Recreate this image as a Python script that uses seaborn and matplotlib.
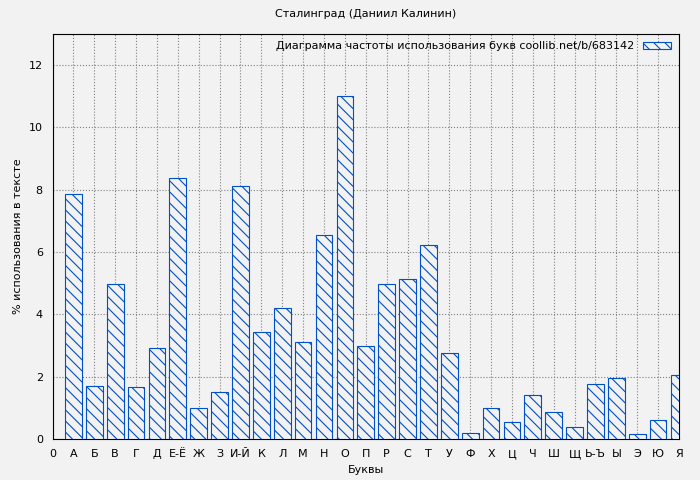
import matplotlib
matplotlib.use("Agg")
import matplotlib.pyplot as plt
import seaborn as sns
import pandas as pd

letters = ["А", "Б", "В", "Г", "Д", "Е-Ё", "Ж", "З", "И-Й", "К", "Л", "М", "Н", "О", "П",
           "Р", "С", "Т", "У", "Ф", "Х", "Ц", "Ч", "Ш", "Щ", "Ь-Ъ", "Ы", "Э", "Ю", "Я"]
percent = [7.87, 1.70, 4.96, 1.66, 2.91, 8.38, 0.99, 1.50, 8.10, 3.42, 4.22, 3.10, 6.53, 11.0, 2.98,
           4.99, 5.12, 6.21, 2.75, 0.19, 0.99, 0.54, 1.41, 0.86, 0.38, 1.76, 1.95, 0.16, 0.61, 2.05]
legend_label = "Диаграмма частоты использования букв coollib.net/b/683142"
title = "Сталинград (Даниил Калинин)"

df = pd.DataFrame({"pos": range(1, len(letters) + 1), "pct": percent})

sns.set_style("whitegrid")
plt.rcParams["font.family"] = ["DejaVu Sans"]
plt.rcParams["text.color"] = "black"
plt.rcParams["axes.labelcolor"] = "black"
plt.rcParams["xtick.color"] = "black"
plt.rcParams["ytick.color"] = "black"
plt.rcParams["hatch.color"] = "#0050c8"
plt.rcParams["hatch.linewidth"] = 0.8

fig, ax = plt.subplots(figsize=(7, 4.8), dpi=100)
fig.patch.set_facecolor("#f2f2f2")
ax.set_facecolor("#f2f2f2")

sns.barplot(data=df, x="pos", y="pct", native_scale=True, width=0.8,
            facecolor="#f2f2f2", edgecolor="#0050c8", linewidth=0.8,
            hatch="\\\\\\", label=legend_label, ax=ax, zorder=3)

ax.set_xlim(0, len(letters))
ax.set_ylim(0, 13)
ax.set_xticks(range(0, len(letters) + 1))
ax.set_xticklabels(["0"] + letters, fontsize=8)
ax.set_yticks(range(0, 13, 2))
ax.tick_params(axis="y", labelsize=8)
ax.grid(True, linestyle=":", color="#808080", linewidth=0.8, zorder=0)
for s in ax.spines.values():
    s.set_color("black")
    s.set_linewidth(0.8)

ax.set_xlabel("Буквы", fontsize=8)
ax.set_ylabel("% использования в тексте", fontsize=8)
ax.set_title(title, fontsize=8, pad=12)
ax.legend(loc="upper right", fontsize=8, frameon=False, markerfirst=False,
          handlelength=2.5, handleheight=0.5, borderaxespad=0.3)

plt.subplots_adjust(left=0.075, right=0.97, top=0.93, bottom=0.085)
fig.savefig("out.png", dpi=100, facecolor=fig.get_facecolor())
